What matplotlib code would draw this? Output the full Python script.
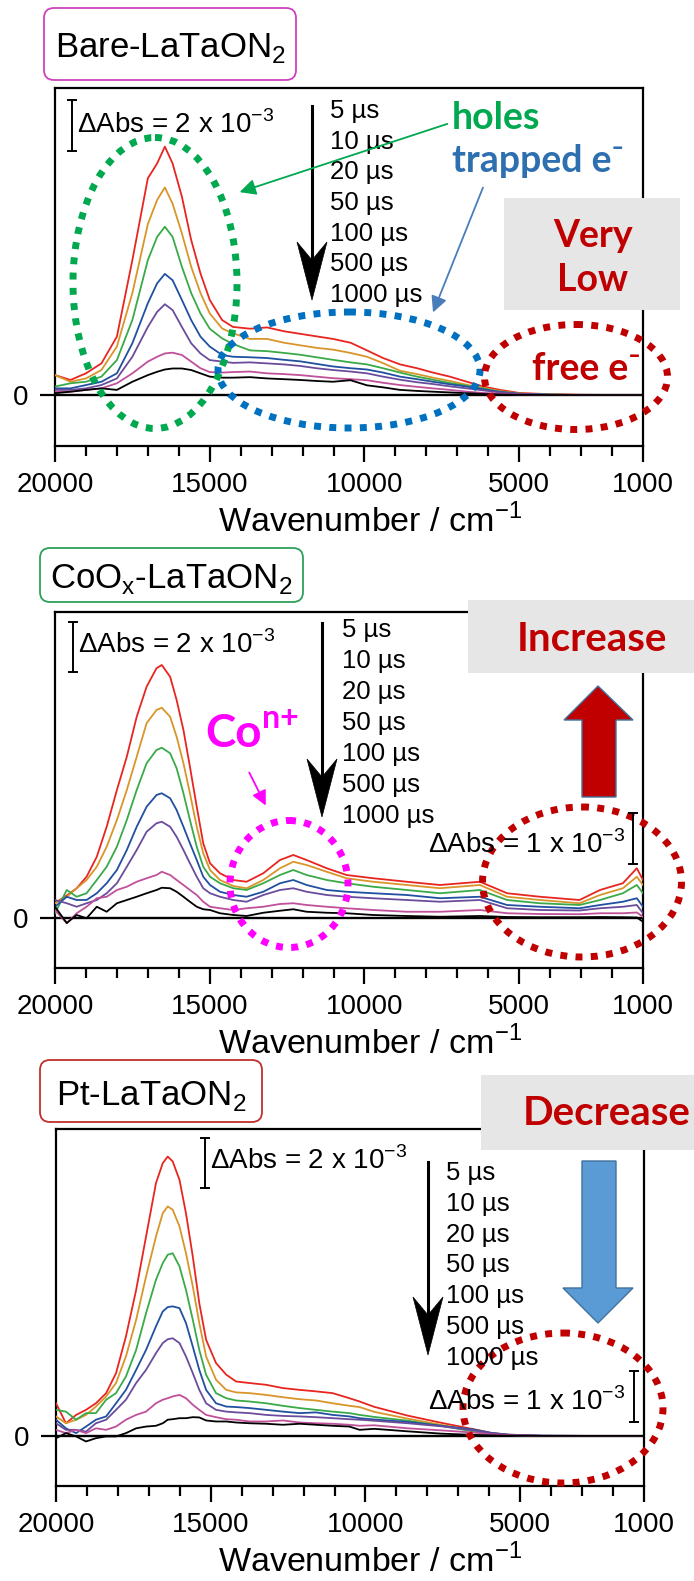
import matplotlib
matplotlib.use('Agg')
import matplotlib.pyplot as plt
from matplotlib.patches import Ellipse, Rectangle, Polygon, FancyBboxPatch

plt.rcParams['font.family'] = ['Liberation Sans', 'DejaVu Sans']
plt.rcParams['mathtext.fontset'] = 'custom'
plt.rcParams['mathtext.rm'] = 'Liberation Sans'
plt.rcParams['mathtext.bf'] = 'Liberation Sans:bold'

W, H = 694, 1581

# ---- data (ΔAbs in units of 1e-3) ----
times = ['5 µs', '10 µs', '20 µs', '50 µs', '100 µs', '500 µs', '1000 µs']
line_colors = ['#e8251f', '#d9952a', '#3aaa48', '#2150a0', '#6a4c9c', '#c0509a', '#000000']

# Bare-LaTaON2
wn1 = [20000, 19500, 19000, 18500, 18000, 17500, 17000, 16700, 16450, 16200, 15900, 15600,
       15300, 15000, 14600, 14250, 13700, 13150, 12600, 12080, 11550, 11020, 10450, 9920,
       9400, 8850, 8300, 7790, 7240, 6690, 6150, 5620, 5000, 4000, 3000, 2000, 1000]
bare_5 = [0.78, 0.59, 0.85, 1.24, 2.29, 5.29, 8.50, 9.08, 9.74, 9.08, 7.78, 6.08, 4.77, 3.73,
          2.94, 2.67, 2.6, 2.65, 2.5, 2.4, 2.3, 2.2, 2.05, 1.75, 1.45, 1.2, 1.05, 0.88, 0.72,
          0.52, 0.33, 0.2, 0.08, 0.03, 0.01, 0.0, 0.0]
bare_10 = [0.78, 0.52, 0.65, 0.98, 1.9, 4.0, 6.7, 7.65, 8.14, 7.5, 6.34, 5.03, 4.0, 3.2, 2.61,
           2.42, 2.2, 2.2, 2.05, 1.95, 1.85, 1.78, 1.65, 1.5, 1.25, 0.95, 0.82, 0.68, 0.55,
           0.4, 0.28, 0.15, 0.06, 0.02, 0.0, 0.0, 0.0]
bare_20 = [0.33, 0.46, 0.52, 0.72, 1.37, 2.94, 5.29, 6.2, 6.6, 6.2, 5.03, 4.0, 3.2, 2.6, 2.22,
           2.0, 1.75, 1.72, 1.65, 1.58, 1.48, 1.38, 1.28, 1.2, 1.05, 0.88, 0.72, 0.6, 0.47,
           0.36, 0.25, 0.13, 0.05, 0.02, 0.0, 0.0, 0.0]
bare_50 = [0.26, 0.26, 0.39, 0.52, 0.85, 2.03, 3.6, 4.38, 4.75, 4.5, 3.73, 2.94, 2.29, 1.9,
           1.57, 1.5, 1.48, 1.45, 1.38, 1.32, 1.22, 1.12, 1.05, 1.0, 0.88, 0.72, 0.62, 0.52,
           0.42, 0.33, 0.22, 0.12, 0.05, 0.01, 0.0, 0.0, 0.0]
bare_100 = [0.2, 0.2, 0.26, 0.39, 0.65, 1.5, 2.67, 3.26, 3.56, 3.33, 2.67, 2.03, 1.63, 1.37,
            1.31, 1.26, 1.28, 1.24, 1.2, 1.14, 1.05, 0.98, 0.92, 0.85, 0.72, 0.6, 0.5, 0.43,
            0.34, 0.26, 0.18, 0.1, 0.04, 0.01, 0.0, 0.0, 0.0]
bare_500 = [0.13, 0.13, 0.2, 0.26, 0.46, 0.85, 1.31, 1.5, 1.63, 1.66, 1.57, 1.31, 1.05, 0.9,
            0.88, 0.9, 0.92, 0.85, 0.82, 0.78, 0.72, 0.66, 0.62, 0.58, 0.48, 0.39, 0.32, 0.26,
            0.2, 0.13, 0.08, 0.05, 0.02, 0.0, 0.0, 0.0, 0.0]
bare_1000 = [0.07, 0.13, 0.2, 0.26, 0.2, 0.52, 0.78, 0.91, 1.0, 1.04, 1.04, 0.98, 0.85, 0.72,
             0.68, 0.68, 0.7, 0.65, 0.62, 0.59, 0.55, 0.52, 0.58, 0.38, 0.3, 0.2, 0.16, 0.13,
             0.1, 0.07, 0.04, 0.02, 0.01, 0.0, 0.0, 0.0, 0.0]

# CoOx-LaTaON2
wn2 = [20000, 19620, 19300, 18980, 18650, 18330, 18000, 17680, 17360, 17040, 16720, 16550,
       16280, 16070, 15850, 15640, 15420, 15210, 14990, 14670, 14240, 13810, 13270, 12730,
       12300, 11870, 11220, 10580, 9720, 8630, 7560, 6270, 5390, 4330, 3050, 2390, 1650,
       1200, 1000]
co_5 = [0.6, 0.9, 1.19, 1.65, 2.45, 3.65, 5.12, 6.45, 8.05, 9.25, 9.99, 10.12, 9.65, 8.72,
        7.52, 6.05, 4.45, 2.99, 2.19, 1.79, 1.52, 1.45, 1.79, 2.32, 2.52, 2.32, 1.99, 1.72,
        1.59, 1.45, 1.32, 1.45, 0.99, 0.85, 0.72, 1.12, 1.39, 1.99, 1.52]
co_10 = [0.59, 0.85, 1.19, 1.52, 2.05, 2.85, 3.92, 5.12, 6.45, 7.79, 8.32, 8.41, 8.05, 7.25,
         6.19, 4.99, 3.65, 2.59, 1.92, 1.52, 1.28, 1.19, 1.52, 1.99, 2.25, 2.12, 1.85, 1.59,
         1.45, 1.32, 1.19, 1.32, 0.85, 0.72, 0.59, 0.92, 1.19, 1.65, 1.32]
co_20 = [0.19, 1.12, 0.85, 0.99, 1.52, 2.05, 2.85, 3.92, 5.12, 6.19, 6.72, 6.81, 6.59, 5.99,
         4.99, 3.92, 2.85, 2.05, 1.65, 1.39, 1.19, 1.12, 1.39, 1.72, 1.92, 1.72, 1.52, 1.39,
         1.25, 1.12, 0.99, 1.12, 0.72, 0.59, 0.52, 0.72, 0.99, 1.32, 0.99]
co_50 = [0.45, 0.85, 0.72, 0.72, 0.99, 1.39, 1.92, 2.72, 3.65, 4.45, 4.92, 4.99, 4.79, 4.32,
         3.65, 2.99, 2.32, 1.65, 1.32, 1.05, 0.92, 0.85, 1.05, 1.39, 1.52, 1.32, 1.12, 1.05,
         0.99, 0.92, 0.79, 0.85, 0.52, 0.45, 0.39, 0.52, 0.65, 0.79, 0.45]
co_100 = [0.72, 0.59, 0.45, 0.59, 0.72, 0.99, 1.39, 2.05, 2.72, 3.45, 3.79, 3.85, 3.65, 3.25,
          2.72, 2.19, 1.65, 1.19, 0.99, 0.85, 0.72, 0.65, 0.92, 1.12, 1.19, 1.05, 0.92, 0.85,
          0.79, 0.72, 0.65, 0.72, 0.39, 0.32, 0.30, 0.39, 0.45, 0.52, 0.19]
co_500 = [0.32, -0.21, 0.19, 0.45, 0.79, 0.85, 1.12, 1.25, 1.45, 1.59, 1.72, 1.85, 1.72, 1.52,
          1.32, 1.12, 0.92, 0.65, 0.45, 0.39, 0.32, 0.39, 0.45, 0.56, 0.59, 0.52, 0.45, 0.39,
          0.32, 0.25, 0.25, 0.32, 0.19, 0.16, 0.15, 0.19, 0.19, 0.22, 0.05]
co_1000 = [0.45, -0.2, 0.12, -0.01, 0.45, 0.25, 0.59, 0.72, 0.85, 0.99, 1.12, 1.21, 1.19, 1.05,
           0.85, 0.65, 0.45, 0.35, 0.32, 0.19, 0.12, 0.08, 0.21, 0.29, 0.35, 0.25, 0.21, 0.19,
           0.12, 0.08, 0.05, 0.08, 0.04, 0.03, 0.03, 0.04, 0.03, 0.02, -0.15]

# Pt-LaTaON2
wn3 = [20000, 19680, 19350, 19030, 18710, 18380, 18060, 17740, 17410, 17090, 16770, 16550,
       16390, 16230, 16010, 15800, 15580, 15370, 15150, 14830, 14500, 14180, 13750, 13210,
       12670, 12130, 11600, 11060, 10520, 10190, 9720, 8630, 7560, 6490, 5940, 5390, 4330,
       3000, 2000, 1000]
pt_5 = [1.29, 0.50, 0.83, 1.03, 1.29, 1.69, 2.48, 3.93, 5.77, 7.88, 9.99, 10.78, 11.04, 10.85,
        10.12, 8.80, 7.09, 5.25, 3.80, 2.88, 2.42, 2.15, 2.09, 2.02, 1.89, 1.82, 1.76, 1.69,
        1.49, 1.36, 1.15, 0.80, 0.52, 0.26, 0.12, 0.05, 0.0, 0.0, 0.0, 0.0]
pt_10 = [0.77, 0.50, 0.64, 0.83, 1.16, 1.56, 2.09, 3.14, 4.59, 6.30, 7.88, 8.80, 9.07, 8.94,
         8.28, 7.22, 5.91, 4.46, 3.14, 2.22, 1.82, 1.72, 1.69, 1.62, 1.53, 1.45, 1.40, 1.29,
         1.19, 1.14, 0.95, 0.68, 0.44, 0.21, 0.10, 0.04, 0.0, 0.0, 0.0, 0.0]
pt_20 = [1.03, 0.96, 0.64, 0.90, 0.90, 1.43, 1.69, 2.35, 3.40, 4.85, 6.17, 6.83, 7.16, 7.22,
         6.70, 5.77, 4.59, 3.40, 2.42, 1.69, 1.49, 1.40, 1.36, 1.29, 1.19, 1.10, 1.03, 0.96,
         0.90, 0.83, 0.75, 0.60, 0.40, 0.17, 0.08, 0.03, 0.0, 0.0, 0.0, 0.0]
pt_50 = [0.64, 0.30, 0.11, 0.37, 0.64, 0.77, 1.29, 1.82, 2.61, 3.40, 4.33, 4.92, 5.09, 5.12,
         5.05, 4.46, 3.53, 2.61, 1.82, 1.29, 1.16, 1.14, 1.10, 1.03, 0.96, 0.90, 0.93, 0.83,
         0.77, 0.70, 0.65, 0.55, 0.40, 0.25, 0.12, 0.05, 0.01, 0.0, 0.0, 0.0]
pt_100 = [0.50, 0.24, 0.24, 0.17, 0.50, 0.64, 1.03, 1.43, 2.09, 2.61, 3.27, 3.67, 3.82, 3.86,
          3.67, 3.14, 2.48, 1.82, 1.29, 1.03, 0.96, 0.93, 0.90, 0.83, 0.79, 0.77, 0.74, 0.70,
          0.66, 0.64, 0.60, 0.50, 0.38, 0.22, 0.10, 0.04, 0.01, 0.0, 0.0, 0.0]
pt_500 = [0.24, 0.11, 0.24, 0.11, 0.30, 0.24, 0.37, 0.64, 0.83, 0.96, 1.29, 1.43, 1.49, 1.56,
          1.62, 1.49, 1.23, 1.03, 0.83, 0.74, 0.66, 0.64, 0.57, 0.57, 0.61, 0.53, 0.50, 0.48,
          0.44, 0.40, 0.42, 0.30, 0.22, 0.13, 0.06, 0.03, 0.0, 0.0, 0.0, 0.0]
pt_1000 = [-0.09, 0.11, -0.02, -0.22, -0.09, -0.02, -0.02, 0.11, 0.30, 0.37, 0.40, 0.50, 0.64,
           0.66, 0.70, 0.70, 0.74, 0.73, 0.61, 0.57, 0.57, 0.53, 0.50, 0.48, 0.44, 0.48, 0.44,
           0.40, 0.37, 0.24, 0.28, 0.18, 0.09, 0.04, 0.02, 0.01, 0.0, 0.0, 0.0, 0.0]

xticks_major = [20000, 15000, 10000, 5000, 1000]
xticks_minor = [19000, 18000, 17000, 16000, 14000, 13000, 12000, 11000, 9000, 8000, 7000,
                6000, 4000, 3000, 2000]

panels = [
    (wn1, [bare_5, bare_10, bare_20, bare_50, bare_100, bare_500, bare_1000]),
    (wn2, [co_5, co_10, co_20, co_50, co_100, co_500, co_1000]),
    (wn3, [pt_5, pt_10, pt_20, pt_50, pt_100, pt_500, pt_1000]),
]
# axes boxes in pixels (left, top, right, bottom) and y ranges
boxes = [(55, 88, 643, 446), (55, 612, 643, 968), (56, 1129, 644, 1486)]
ylims = [(-2.0, 12.04), (-2.0, 12.24), (-1.98, 12.13)]

fig = plt.figure(figsize=(W / 100, H / 100), dpi=100)

for (wn, series), (l, t, r, b), yl in zip(panels, boxes, ylims):
    ax = fig.add_axes([l / W, 1 - b / H, (r - l) / W, (b - t) / H])
    for s, c in zip(series, line_colors):
        ax.plot(wn, s, color=c, lw=1.3, zorder=3)
    ax.axhline(0, color='k', lw=1.7, zorder=2)
    ax.set_xlim(20000, 1000)
    ax.set_ylim(*yl)
    ax.set_xticks(xticks_major)
    ax.set_xticks(xticks_minor, minor=True)
    ax.set_yticks([0])
    ax.tick_params(axis='x', which='major', length=11.5, width=1.6, pad=7, labelsize=20)
    ax.tick_params(axis='x', which='minor', length=7, width=1.6)
    ax.tick_params(axis='y', length=11, width=1.6, pad=8, labelsize=20)
    for sp in ax.spines.values():
        sp.set_linewidth(1.6)

# overlay in pixel coordinates for the annotations
ov = fig.add_axes([0, 0, 1, 1], zorder=10)
ov.set_xlim(0, W)
ov.set_ylim(H, 0)
ov.axis('off')

GREEN = '#00a84f'
BLUE = '#0070c0'
DRED = '#c00000'
MAG = '#ff00ff'
GRAY = '#e6e6e6'
BOLD = dict(family=['Lato', 'DejaVu Sans'], fontweight='bold')


def dotted_ellipse(cx, cy, w, h, color):
    ov.add_patch(Ellipse((cx, cy), w, h, fill=False, ec=color, lw=5,
                         linestyle=(0, (1, 1.2))))


def scale_bar(x, y0, y1):
    ov.plot([x, x], [y0, y1], color='k', lw=1.4)
    ov.plot([x - 4, x + 4], [y0, y0], color='k', lw=1.4)
    ov.plot([x - 4, x + 4], [y1, y1], color='k', lw=1.4)


def time_arrow(x, y0, y1):
    ov.plot([x, x], [y0, y1 - 40], color='k', lw=2.2)
    ov.add_patch(Polygon([(x, y1), (x - 15, y1 - 58), (x, y1 - 40), (x + 15, y1 - 58)],
                         closed=True, fc='k', ec='k', lw=0.5))


def time_labels(x, base0, step):
    for i, lab in enumerate(times):
        ov.text(x, base0 + i * step, lab, fontsize=18.5, ha='left', va='baseline')


def title_box(x0, y0, x1, y1, color, label, base):
    ov.add_patch(FancyBboxPatch((x0, y0), x1 - x0, y1 - y0,
                                boxstyle='round,pad=0,rounding_size=10',
                                fc='white', ec=color, lw=1.3))
    ov.text((x0 + x1) / 2, base, label, fontsize=25, ha='center', va='baseline')


# x labels
for base in [532, 1054, 1572]:
    ov.text(370, base, 'Wavenumber / cm$^{\\mathregular{-1}}$', fontsize=24.5,
            ha='center', va='baseline')

# ---- panel 1 ----
title_box(44, 8, 296, 80, '#cc44bb', 'Bare-LaTaON$_{\\mathregular{2}}$', 57)
scale_bar(72, 100, 151)
ov.text(77, 133, 'ΔAbs = 2 x 10$^{\\mathregular{-3}}$', fontsize=20, va='baseline')
time_arrow(312, 106, 300)
time_labels(330, 118, 30.7)
dotted_ellipse(155, 283, 164, 291, GREEN)
dotted_ellipse(349, 370, 262, 116, BLUE)
dotted_ellipse(576, 377, 183, 105, DRED)
ov.text(452, 129, 'holes', fontsize=27, color=GREEN, va='baseline', **BOLD)
ov.text(452, 172, 'trapped e⁻', fontsize=27, color='#2e6fb0', va='baseline', **BOLD)
ov.annotate('', xy=(237, 193), xytext=(450, 123),
            arrowprops=dict(arrowstyle='-|>', color=GREEN, lw=1.3, mutation_scale=24))
ov.annotate('', xy=(432, 315), xytext=(484, 185),
            arrowprops=dict(arrowstyle='-|>', color='#4a7ebb', lw=1.3, mutation_scale=24))
ov.add_patch(Rectangle((504, 198), 176, 112, fc=GRAY, ec='none'))
ov.text(593, 247, 'Very', fontsize=27, color=DRED, ha='center', va='baseline', **BOLD)
ov.text(593, 291, 'Low', fontsize=27, color=DRED, ha='center', va='baseline', **BOLD)
ov.text(532, 380, 'free e⁻', fontsize=27, color=DRED, va='baseline', **BOLD)

# ---- panel 2 ----
title_box(40, 548, 303, 602, '#2ea05a',
          'CoO$_{\\mathregular{x}}$-LaTaON$_{\\mathregular{2}}$', 588)
scale_bar(73, 622, 672)
ov.text(78, 653, 'ΔAbs = 2 x 10$^{\\mathregular{-3}}$', fontsize=20, va='baseline')
time_arrow(322, 623, 817)
time_labels(342, 637, 31)
ov.text(205, 747, 'Co', fontsize=33, color=MAG, va='baseline', **BOLD)
ov.text(262, 728, 'n+', fontsize=23, color=MAG, va='baseline', **BOLD)
ov.annotate('', xy=(267, 808), xytext=(248, 770),
            arrowprops=dict(arrowstyle='-|>', color=MAG, lw=1.3, mutation_scale=22))
dotted_ellipse(289, 884, 118, 127, MAG)
ov.add_patch(Rectangle((468, 600), 226, 73, fc=GRAY, ec='none'))
ov.text(592, 651, 'Increase', fontsize=29, color=DRED, ha='center', va='baseline', **BOLD)
ov.add_patch(Polygon([(598, 686), (633, 720), (616, 720), (616, 797), (582, 797),
                      (582, 720), (564, 720)], closed=True, fc=DRED, ec='#41719c', lw=1))
dotted_ellipse(582, 882, 199, 150, DRED)
scale_bar(633, 813, 864)
ov.text(625, 853, 'ΔAbs = 1 x 10$^{\\mathregular{-3}}$', fontsize=20, ha='right',
        va='baseline')

# ---- panel 3 ----
title_box(40, 1060, 262, 1122, '#c0302c', 'Pt-LaTaON$_{\\mathregular{2}}$', 1105)
scale_bar(205, 1138, 1188)
ov.text(210, 1169, 'ΔAbs = 2 x 10$^{\\mathregular{-3}}$', fontsize=20, va='baseline')
time_arrow(428, 1162, 1355)
time_labels(446, 1180, 30.8)
ov.add_patch(Rectangle((481, 1075), 213, 75, fc=GRAY, ec='none'))
ov.text(607, 1125, 'Decrease', fontsize=29, color=DRED, ha='center', va='baseline', **BOLD)
ov.add_patch(Polygon([(582, 1161), (616, 1161), (616, 1288), (633, 1288), (598, 1323),
                      (563, 1288), (582, 1288)], closed=True, fc='#5b9bd5', ec='#41719c',
                     lw=1))
dotted_ellipse(563, 1408, 200, 150, DRED)
scale_bar(634, 1371, 1422)
ov.text(625, 1410, 'ΔAbs = 1 x 10$^{\\mathregular{-3}}$', fontsize=20, ha='right',
        va='baseline')

fig.savefig('out.png', dpi=100)
